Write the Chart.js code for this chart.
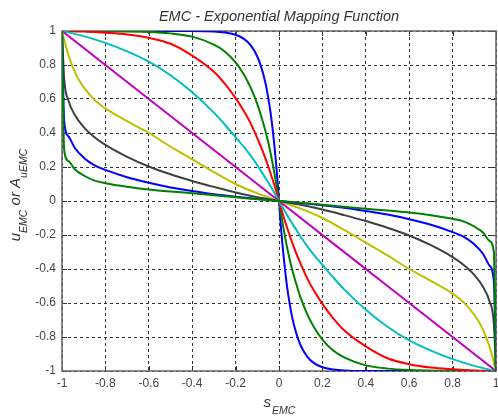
<!DOCTYPE html>
<html>
<head>
<meta charset="utf-8">
<script src="https://cdn.jsdelivr.net/npm/chart.js@4"></script>
<style>
  html, body { margin: 0; padding: 0; background: #ffffff; }
  #wrap { width: 498px; height: 419px; }
</style>
</head>
<body>
<div id="wrap"><canvas id="c" width="498" height="419"></canvas></div>
<script>
// ---------- text ----------
const chartTitle = 'EMC - Exponential Mapping Function';
const xTitleMain = 's', xTitleSub = 'EMC';
const yTitleParts = [['u', false], ['EMC', true], [' or ', false], ['A', false], ['uEMC', true]];

// ---------- tick labels ----------
const xTickValues = [-1, -0.8, -0.6, -0.4, -0.2, 0, 0.2, 0.4, 0.6, 0.8, 1];
const xTickLabels = ['-1', '-0.8', '-0.6', '-0.4', '-0.2', '0', '0.2', '0.4', '0.6', '0.8', '1'];
const yTickValues = [-1, -0.8, -0.6, -0.4, -0.2, 0, 0.2, 0.4, 0.6, 0.8, 1];
const yTickLabels = ['-1', '-0.8', '-0.6', '-0.4', '-0.2', '0', '0.2', '0.4', '0.6', '0.8', '1'];

// ---------- series ----------
// each curve is odd-symmetric: |s| sample positions and |u| values at those positions
const seriesNames  = ['blue1', 'green1', 'red', 'cyan', 'magenta', 'yellow', 'black', 'blue2', 'green2'];
const seriesColors = ['#0000ff', '#008000', '#ff0000', '#00bfbf', '#bf00bf', '#bfbf00', '#404040', '#0000ff', '#008000'];

const blue1S  = [0, 0.01, 0.02, 0.03, 0.04, 0.05, 0.06, 0.08, 0.1, 0.13, 0.16, 0.2, 0.25, 0.3, 0.4, 0.6, 1];
const blue1U  = [0, 0.17, 0.31, 0.43, 0.53, 0.61, 0.68, 0.78, 0.85, 0.915, 0.952, 0.978, 0.991, 0.997, 1, 1, 1];

const green1S = [0, 0.02, 0.04, 0.06, 0.08, 0.1, 0.13, 0.16, 0.2, 0.25, 0.3, 0.4, 0.5, 0.6, 0.8, 1];
const green1U = [0, 0.155, 0.29, 0.40, 0.49, 0.57, 0.665, 0.74, 0.815, 0.88, 0.92, 0.967, 0.986, 0.994, 0.999, 1];

const redS    = [0, 0.02, 0.04, 0.06, 0.08, 0.1, 0.13, 0.16, 0.2, 0.25, 0.3, 0.4, 0.5, 0.6, 0.7, 0.8, 0.9, 1];
const redU    = [0, 0.088, 0.168, 0.242, 0.31, 0.37, 0.455, 0.525, 0.605, 0.69, 0.76, 0.855, 0.925, 0.96, 0.98, 0.99, 0.997, 1];

const cyanS   = [0, 0.02, 0.04, 0.06, 0.08, 0.1, 0.13, 0.16, 0.2, 0.25, 0.3, 0.4, 0.5, 0.6, 0.7, 0.8, 0.9, 1];
const cyanU   = [0, 0.045, 0.089, 0.13, 0.17, 0.21, 0.265, 0.315, 0.375, 0.45, 0.52, 0.64, 0.74, 0.82, 0.88, 0.93, 0.97, 1];

const magentaS = [0, 0.5, 1];
const magentaU = [0, 0.5, 1];

const yellowS = [0, 0.1, 0.2, 0.3, 0.4, 0.5, 0.6, 0.7, 0.8, 0.85, 0.9, 0.93, 0.96, 0.98, 1];
const yellowU = [0, 0.045, 0.1, 0.17, 0.245, 0.32, 0.40, 0.47, 0.545, 0.595, 0.67, 0.73, 0.82, 0.9, 1];

const blackS  = [0, 0.1, 0.2, 0.3, 0.4, 0.5, 0.6, 0.7, 0.8, 0.85, 0.9, 0.94, 0.97, 0.99, 1];
const blackU  = [0, 0.022, 0.05, 0.083, 0.118, 0.157, 0.203, 0.26, 0.33, 0.375, 0.435, 0.505, 0.59, 0.72, 1];

const blue2S  = [0, 0.1, 0.2, 0.3, 0.4, 0.5, 0.6, 0.7, 0.8, 0.85, 0.9, 0.94, 0.97, 0.99, 1];
const blue2U  = [0, 0.012, 0.025, 0.04, 0.059, 0.08, 0.107, 0.14, 0.183, 0.21, 0.255, 0.31, 0.38, 0.47, 1];

const green2S = [0, 0.1, 0.2, 0.3, 0.4, 0.5, 0.6, 0.7, 0.8, 0.85, 0.9, 0.94, 0.97, 0.99, 1];
const green2U = [0, 0.01, 0.022, 0.034, 0.046, 0.056, 0.068, 0.084, 0.105, 0.12, 0.15, 0.185, 0.235, 0.3, 1];

const seriesS = [blue1S, green1S, redS, cyanS, magentaS, yellowS, blackS, blue2S, green2S];
const seriesU = [blue1U, green1U, redU, cyanU, magentaU, yellowU, blackU, blue2U, green2U];

// build full curve (s from -1 to 1) from the read half using the odd symmetry seen in the plot
function fullCurve(absS, absU) {
  const pts = [];
  for (let i = absS.length - 1; i >= 0; i--) pts.push({ x: -absS[i], y: absU[i] });
  for (let i = 1; i < absS.length; i++) pts.push({ x: absS[i], y: -absU[i] });
  return pts;
}

const FONT = '"Liberation Sans", Arial, sans-serif';
Chart.defaults.font.family = FONT;

const datasets = seriesNames.map((name, i) => ({
  label: name,
  data: fullCurve(seriesS[i], seriesU[i]),
  borderColor: seriesColors[i],
  backgroundColor: seriesColors[i],
  borderWidth: 2,
  pointRadius: 0,
  fill: false,
  cubicInterpolationMode: 'monotone',
  order: -i
}));

function drawSubText(ctx, parts, mainFont, subFont, subDy) {
  // measure
  let w = 0;
  parts.forEach(p => { ctx.font = p[1] ? subFont : mainFont; w += ctx.measureText(p[0]).width; });
  return w;
}

const deco = {
  id: 'deco',
  beforeDatasetsDraw(chart) {
    const ctx = chart.ctx, a = chart.chartArea;
    const xs = chart.scales.x, ys = chart.scales.y;
    ctx.save();
    // inward tick marks
    ctx.strokeStyle = '#333';
    ctx.lineWidth = 1;
    ctx.beginPath();
    xTickValues.forEach(v => {
      const px = Math.round(xs.getPixelForValue(v)) + 0.5;
      ctx.moveTo(px, a.bottom); ctx.lineTo(px, a.bottom - 5);
      ctx.moveTo(px, a.top); ctx.lineTo(px, a.top + 5);
    });
    yTickValues.forEach(v => {
      const py = Math.round(ys.getPixelForValue(v)) + 0.5;
      ctx.moveTo(a.left, py); ctx.lineTo(a.left + 5, py);
      ctx.moveTo(a.right, py); ctx.lineTo(a.right - 5, py);
    });
    ctx.stroke();
    // box
    ctx.strokeStyle = '#666';
    ctx.lineWidth = 1.5;
    ctx.strokeRect(a.left, a.top, a.right - a.left, a.bottom - a.top);
    ctx.restore();
  },
  afterDraw(chart) {
    const ctx = chart.ctx, a = chart.chartArea;
    const cx = (a.left + a.right) / 2;
    ctx.save();
    ctx.fillStyle = '#333';
    // title
    ctx.font = 'italic 14.5px ' + FONT;
    ctx.textAlign = 'center';
    ctx.textBaseline = 'alphabetic';
    ctx.fillText(chartTitle, cx, 21);

    const mainFont = 'italic 15px ' + FONT;
    const subFont = 'italic 10.5px ' + FONT;
    ctx.textAlign = 'left';

    // x title
    ctx.font = mainFont;
    const wS = ctx.measureText(xTitleMain).width;
    ctx.font = subFont;
    const wSub = ctx.measureText(xTitleSub).width;
    let x0 = cx - (wS + wSub) / 2;
    ctx.font = mainFont; ctx.fillText(xTitleMain, x0, 407);
    ctx.font = subFont; ctx.fillText(xTitleSub, x0 + wS + 1, 414);

    // y title (rotated)
    const total = drawSubText(ctx, yTitleParts, mainFont, subFont);
    ctx.translate(19.5, 195 + total / 2);
    ctx.rotate(-Math.PI / 2);
    let off = 0;
    yTitleParts.forEach(p => {
      ctx.font = p[1] ? subFont : mainFont;
      ctx.fillText(p[0], off, p[1] ? 7 : 0);
      off += ctx.measureText(p[0]).width;
    });
    ctx.restore();
  }
};

new Chart(document.getElementById('c'), {
  type: 'line',
  data: { datasets },
  options: {
    responsive: false,
    animation: false,
    devicePixelRatio: 1,
    layout: { padding: { top: 31, right: 2, bottom: 28, left: 0 } },
    plugins: { legend: { display: false }, tooltip: { enabled: false }, title: { display: false } },
    scales: {
      x: {
        type: 'linear', min: -1, max: 1,
        afterBuildTicks: s => { s.ticks = xTickValues.map(v => ({ value: v })); },
        afterFit: s => { s.paddingLeft = 0; s.paddingRight = 0; s.height = 20; },
        ticks: {
          callback: (v, i) => xTickLabels[i],
          font: { size: 12, family: FONT }, color: '#444', padding: 5,
          maxRotation: 0, autoSkip: false
        },
        grid: { color: '#333', lineWidth: 1, drawTicks: false },
        border: { display: false, dash: [3, 3] }
      },
      y: {
        type: 'linear', min: -1, max: 1,
        afterBuildTicks: s => { s.ticks = yTickValues.map(v => ({ value: v })); },
        afterFit: s => { s.width = 62; },
        ticks: {
          callback: (v, i) => yTickLabels[i],
          font: { size: 12, family: FONT }, color: '#444', padding: 6,
          autoSkip: false
        },
        grid: { color: '#333', lineWidth: 1, drawTicks: false },
        border: { display: false, dash: [3, 3] }
      }
    }
  },
  plugins: [deco]
});
</script>
</body>
</html>
